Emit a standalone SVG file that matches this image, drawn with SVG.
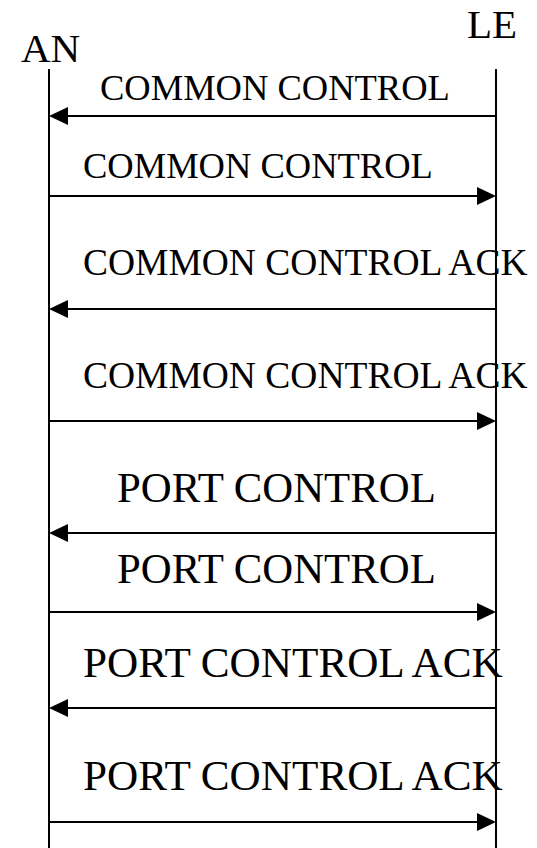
<svg xmlns="http://www.w3.org/2000/svg" width="537" height="848" viewBox="0 0 537 848">
  <style>
    .life { stroke: #000; stroke-width: 2; fill: none; }
    .msg { stroke: #000; stroke-width: 2; fill: none; }
    .head { fill: #000; stroke: none; }
    text { font-family: "Liberation Serif", "Times New Roman", serif; fill: #000; }
    .ent { font-size: 41px; }
    .cc { font-size: 36.5px; }
    .cca { font-size: 37.5px; }
    .pc { font-size: 42.8px; }
    .pca { font-size: 43.2px; }
  </style>
  <rect width="537" height="848" fill="#fff"/>

  <!-- entities and their lifelines -->
  <g id="an">
    <text class="ent" x="21" y="62">AN</text>
    <line class="life" x1="49" y1="69" x2="49" y2="848"/>
  </g>
  <g id="le">
    <text class="ent" x="467" y="38">LE</text>
    <line class="life" x1="496" y1="69" x2="496" y2="848"/>
  </g>

  <!-- message labels -->
  <g id="labels">
    <text class="cc" x="100" y="100">COMMON CONTROL</text>
    <text class="cc" x="83" y="178">COMMON CONTROL</text>
    <text class="cca" x="83" y="275">COMMON CONTROL ACK</text>
    <text class="cca" x="83" y="388">COMMON CONTROL ACK</text>
    <text class="pc" x="117" y="502">PORT CONTROL</text>
    <text class="pc" x="117" y="583">PORT CONTROL</text>
    <text class="pca" x="83" y="677">PORT CONTROL ACK</text>
    <text class="pca" x="83" y="790">PORT CONTROL ACK</text>
  </g>

  <!-- message arrows: LE to AN point left, AN to LE point right -->
  <g id="connectors">
    <line class="msg" x1="496" y1="116" x2="60" y2="116"/>
    <polygon class="head" points="49,116 68,107 68,125"/>
    <line class="msg" x1="49" y1="196" x2="485" y2="196"/>
    <polygon class="head" points="496,196 477,187 477,205"/>
    <line class="msg" x1="496" y1="309" x2="60" y2="309"/>
    <polygon class="head" points="49,309 68,300 68,318"/>
    <line class="msg" x1="49" y1="421" x2="485" y2="421"/>
    <polygon class="head" points="496,421 477,412 477,430"/>
    <line class="msg" x1="496" y1="533" x2="60" y2="533"/>
    <polygon class="head" points="49,533 68,524 68,542"/>
    <line class="msg" x1="49" y1="612" x2="485" y2="612"/>
    <polygon class="head" points="496,612 477,603 477,621"/>
    <line class="msg" x1="496" y1="708" x2="60" y2="708"/>
    <polygon class="head" points="49,708 68,699 68,717"/>
    <line class="msg" x1="49" y1="822" x2="485" y2="822"/>
    <polygon class="head" points="496,822 477,813 477,831"/>
  </g>
</svg>
